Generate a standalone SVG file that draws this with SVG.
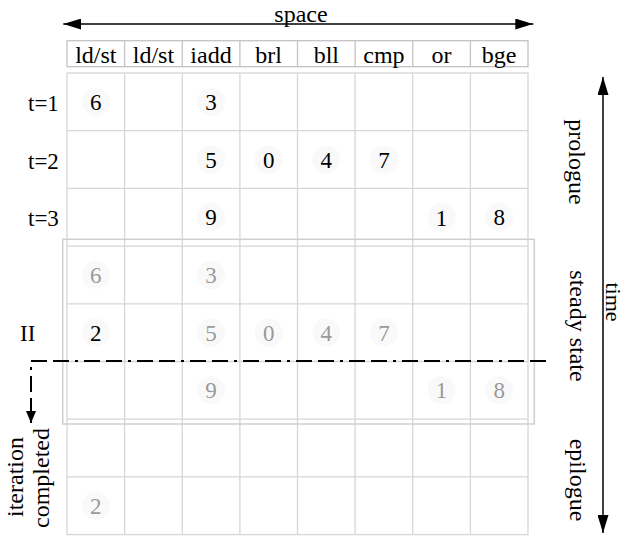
<svg xmlns="http://www.w3.org/2000/svg" width="625" height="536" viewBox="0 0 625 536">
<style>
text{font-family:"Liberation Serif","Times New Roman",serif;fill:#000}
.hd{font-size:24px;text-anchor:middle}
.lb{font-size:24px;text-anchor:middle}
.rl{font-size:23px}
.n{font-size:23px;text-anchor:middle}
.g{fill:#999}
.bg{fill:#f9f9f9}
.grid{stroke:#d6d6d6;stroke-width:1.3;fill:none}
.hdr{stroke:#c4c4c4;stroke-width:1.3;fill:none}
.box{stroke:#cfcfcf;stroke-width:1.5;fill:none}
.arr{stroke:#000;stroke-width:1.5;fill:none}
.dd{stroke:#000;stroke-width:2;fill:none;stroke-dasharray:16 6 16 6 3 6}
</style>
<defs>
<marker id="ah" viewBox="0 0 18 11" refX="18" refY="5.5" markerWidth="18" markerHeight="11" orient="auto-start-reverse" markerUnits="userSpaceOnUse"><path d="M0,0 L18,5.5 L0,11 z" fill="#000"/></marker>
<marker id="ahs" viewBox="0 0 12 10" refX="12" refY="5" markerWidth="12" markerHeight="10" orient="auto" markerUnits="userSpaceOnUse"><path d="M0,0 L12,5 L0,10 z" fill="#000"/></marker>
</defs>
<rect width="625" height="536" fill="#fff"/>

<g id="header">
<rect class="hdr" x="67" y="40.7" width="461" height="26"/>
<path class="hdr" d="M124.6,40.7V66.7M182.25,40.7V66.7M239.9,40.7V66.7M297.5,40.7V66.7M355.1,40.7V66.7M412.75,40.7V66.7M470.4,40.7V66.7"/>
<text class="hd" x="95.8" y="62.5">ld/st</text>
<text class="hd" x="153.4" y="62.5">ld/st</text>
<text class="hd" x="211" y="62.5">iadd</text>
<text class="hd" x="268.7" y="62.5">brl</text>
<text class="hd" x="326.3" y="62.5">bll</text>
<text class="hd" x="383.9" y="62.5">cmp</text>
<text class="hd" x="441.6" y="62.5">or</text>
<text class="hd" x="499.2" y="62.5">bge</text>
</g>

<g id="grid">
<rect class="grid" x="67" y="73" width="461" height="461.6"/>
<path class="grid" d="M124.6,73V534.6M182.25,73V534.6M239.9,73V534.6M297.5,73V534.6M355.1,73V534.6M412.75,73V534.6M470.4,73V534.6M67,130.7H528M67,188.4H528M67,246.1H528M67,303.8H528M67,361.5H528M67,419.2H528M67,476.9H528"/>
</g>

<g id="steady-box">
<rect class="box" x="62.7" y="239.3" width="471.6" height="184.7"/>
</g>

<g id="cells">
<g class="bg">
<circle cx="95.8" cy="102" r="14"/><circle cx="211" cy="102" r="14"/>
<circle cx="211" cy="159.5" r="14"/><circle cx="268.7" cy="159.5" r="14"/><circle cx="326.3" cy="159.5" r="14"/><circle cx="383.9" cy="159.5" r="14"/>
<circle cx="211" cy="217" r="14"/><circle cx="441.6" cy="217" r="14"/><circle cx="499.2" cy="217" r="14"/>
<circle cx="95.8" cy="275" r="14"/><circle cx="211" cy="275" r="14"/>
<circle cx="95.8" cy="332.6" r="14"/><circle cx="211" cy="332.6" r="14"/><circle cx="268.7" cy="332.6" r="14"/><circle cx="326.3" cy="332.6" r="14"/><circle cx="383.9" cy="332.6" r="14"/>
<circle cx="211" cy="390.3" r="14"/><circle cx="441.6" cy="390.3" r="14"/><circle cx="499.2" cy="390.3" r="14"/>
<circle cx="95.8" cy="505.8" r="14"/>
</g>
<text class="n" x="95.8" y="110">6</text><text class="n" x="211" y="110">3</text>
<text class="n" x="211" y="168">5</text><text class="n" x="268.7" y="168">0</text><text class="n" x="326.3" y="168">4</text><text class="n" x="383.9" y="168">7</text>
<text class="n" x="211" y="225">9</text><text class="n" x="441.6" y="226">1</text><text class="n" x="499.2" y="225">8</text>
<text class="n g" x="95.8" y="283">6</text><text class="n g" x="211" y="283">3</text>
<text class="n" x="95.8" y="341">2</text><text class="n g" x="211" y="341">5</text><text class="n g" x="268.7" y="341">0</text><text class="n g" x="326.3" y="341">4</text><text class="n g" x="383.9" y="341">7</text>
<text class="n g" x="211" y="398">9</text><text class="n g" x="441.6" y="398">1</text><text class="n g" x="499.2" y="398">8</text>
<text class="n g" x="95.8" y="514">2</text>
</g>

<g id="row-labels">
<text class="rl" x="28" y="111">t=1</text>
<text class="rl" x="28" y="169">t=2</text>
<text class="rl" x="28" y="226">t=3</text>
<text class="rl" x="20" y="341">II</text>
</g>

<g id="connectors">
<line class="arr" x1="63.3" y1="24" x2="533.3" y2="24" marker-start="url(#ah)" marker-end="url(#ah)"/>
<line class="arr" x1="603" y1="77" x2="603" y2="533" marker-start="url(#ah)" marker-end="url(#ah)"/>
<path class="dd" d="M546,361H31V423" marker-end="url(#ahs)"/>
</g>

<g id="axis-labels">
<text class="lb" x="301" y="22">space</text>
<text class="lb" transform="translate(569,162) rotate(90)">prologue</text>
<text class="lb" transform="translate(570,326) rotate(90)">steady state</text>
<text class="lb" style="font-size:22px" transform="translate(605.5,302) rotate(90)">time</text>
<text class="lb" transform="translate(570,480) rotate(90)">epilogue</text>
<text class="lb" transform="translate(23,477) rotate(-90)">iteration</text>
<text class="lb" transform="translate(49,478) rotate(-90)">completed</text>
</g>
</svg>
